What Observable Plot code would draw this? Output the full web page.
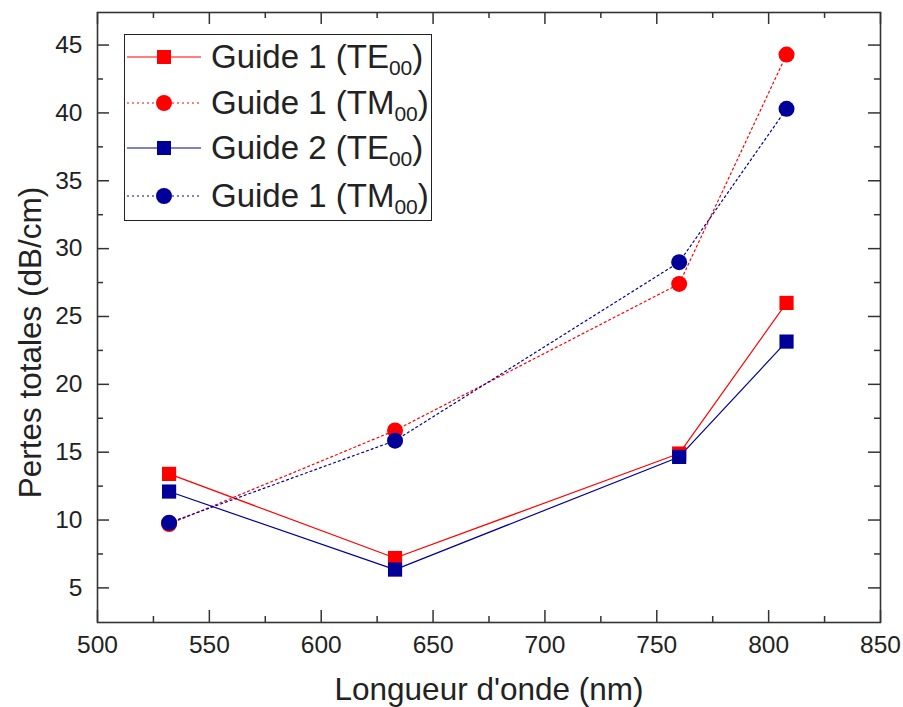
<!DOCTYPE html>
<html>
<head>
<meta charset="utf-8">
<script src="https://cdn.jsdelivr.net/npm/d3@7"></script>
<script src="https://cdn.jsdelivr.net/npm/@observablehq/plot@0.6"></script>
<style>
  body { margin: 0; background: #fff; }
  #wrap { position: relative; width: 903px; height: 707px; font-family: "Liberation Sans", Arial, sans-serif; color: #222; }
  #legend { position: absolute; left: 124px; top: 34px; width: 306px; height: 185px; border: 1.5px solid #222; background: #fff; }
  .row { position: absolute; left: 0; height: 40px; width: 306px; }
  .row svg { position: absolute; left: 2px; top: 0; }
  .row span { position: absolute; left: 86px; top: 0; line-height: 40px; font-size: 33px; white-space: nowrap; }
  .row sub { font-size: 21px; vertical-align: -7px; line-height: 0; }
</style>
</head>
<body>
<div id="wrap"></div>
<script>
// Data
const wavelengths = [532, 633, 760, 808];
const guide1TE = [13.4, 7.2, 14.9, 26.0];
const guide1TM = [9.7, 16.6, 27.4, 44.3];
const guide2TE = [12.1, 6.35, 14.65, 23.15];
const guide2TM = [9.8, 15.85, 29.0, 40.3];

const legendMain = ["Guide 1 (TE", "Guide 1 (TM", "Guide 2 (TE", "Guide 1 (TM"];
const legendSub = ["00", "00", "00", "00"];
const seriesColors = ["#ff0000", "#ff0000", "#000099", "#000099"];
const seriesDash = [null, "2,3", null, "2,3"];
const seriesSymbol = ["square", "circle", "square", "circle"];

const xTicks = [500, 550, 600, 650, 700, 750, 800, 850];
const xMinor = [525, 575, 625, 675, 725, 775, 825];
const yTicks = [5, 10, 15, 20, 25, 30, 35, 40, 45];
const yMinor = [7.5, 12.5, 17.5, 22.5, 27.5, 32.5, 37.5, 42.5];
const xTitle = "Longueur d'onde (nm)";
const yTitle = "Pertes totales (dB/cm)";

const allValues = [guide1TE, guide1TM, guide2TE, guide2TM];
const rows = [];
allValues.forEach((vals, s) => vals.forEach((v, i) => rows.push({series: s, x: wavelengths[i], y: v})));

const W = 903, H = 707;
const mL = 97, mR = 23, mT = 12, mB = 85;
const fW = W - mL - mR, fH = H - mT - mB;
const font = '"Liberation Sans", Arial, sans-serif';

const marks = [];
// ticks inward
const tk = {stroke: "#333", strokeWidth: 1.5};
marks.push(Plot.tickX(xTicks, {x: d => d, insetTop: fH - 12, ...tk}));
marks.push(Plot.tickX(xTicks, {x: d => d, insetBottom: fH - 12, ...tk}));
marks.push(Plot.tickX(xMinor, {x: d => d, insetTop: fH - 6, ...tk}));
marks.push(Plot.tickX(xMinor, {x: d => d, insetBottom: fH - 6, ...tk}));
marks.push(Plot.tickY(yTicks, {y: d => d, insetRight: fW - 12, ...tk}));
marks.push(Plot.tickY(yTicks, {y: d => d, insetLeft: fW - 12, ...tk}));
marks.push(Plot.tickY(yMinor, {y: d => d, insetRight: fW - 6, ...tk}));
marks.push(Plot.tickY(yMinor, {y: d => d, insetLeft: fW - 6, ...tk}));

for (let s = 0; s < 4; s++) {
  const data = rows.filter(r => r.series === s);
  marks.push(Plot.line(data, {x: "x", y: "y", stroke: seriesColors[s], strokeWidth: 1.2, strokeDasharray: seriesDash[s]}));
}
for (let s = 0; s < 4; s++) {
  const data = rows.filter(r => r.series === s);
  marks.push(Plot.dot(data, {x: "x", y: "y", symbol: () => seriesSymbol[s], r: 8, fill: seriesColors[s], stroke: "none"}));
}
marks.push(Plot.frame({stroke: "#333", strokeWidth: 1.6}));
marks.push(Plot.axisX(xTicks, {tickSize: 0, tickPadding: 13, fontSize: 24.5, label: null, fill: "#222"}));
marks.push(Plot.axisY(yTicks, {tickSize: 0, tickPadding: 15, fontSize: 24.5, label: null, fill: "#222"}));
marks.push(Plot.text([xTitle], {frameAnchor: "bottom", lineAnchor: "middle", textAnchor: "middle", dy: 67, fontSize: 31.5, fill: "#222", text: d => d}));
marks.push(Plot.text([yTitle], {frameAnchor: "left", lineAnchor: "middle", textAnchor: "middle", dx: -67, dy: 25, rotate: -90, fontSize: 31.5, fill: "#222", text: d => d}));

const chart = Plot.plot({
  width: W, height: H,
  marginLeft: mL, marginRight: mR, marginTop: mT, marginBottom: mB,
  style: {fontFamily: font, background: "#fff", color: "#222"},
  x: {domain: [500, 850]},
  y: {domain: [2.45, 47.4]},
  symbol: {type: "identity"},
  marks
});
const wrap = document.getElementById("wrap");
wrap.appendChild(chart);

// Legend overlay
const legend = document.createElement("div");
legend.id = "legend";
const rowTops = [2, 48, 93, 141];
for (let s = 0; s < 4; s++) {
  const row = document.createElement("div");
  row.className = "row";
  row.style.top = rowTops[s] + "px";
  const c = seriesColors[s];
  const dash = seriesDash[s] ? `stroke-dasharray="${seriesDash[s]}"` : "";
  const marker = seriesSymbol[s] === "square"
    ? `<rect x="30" y="13" width="14" height="14" fill="${c}"/>`
    : `<circle cx="37" cy="20" r="8" fill="${c}"/>`;
  row.innerHTML = `<svg width="80" height="40"><line x1="0" y1="20" x2="74" y2="20" stroke="${c}" stroke-width="1.2" ${dash}/>${marker}</svg><span>${legendMain[s]}<sub>${legendSub[s]}</sub>)</span>`;
  legend.appendChild(row);
}
wrap.appendChild(legend);
</script>
</body>
</html>
